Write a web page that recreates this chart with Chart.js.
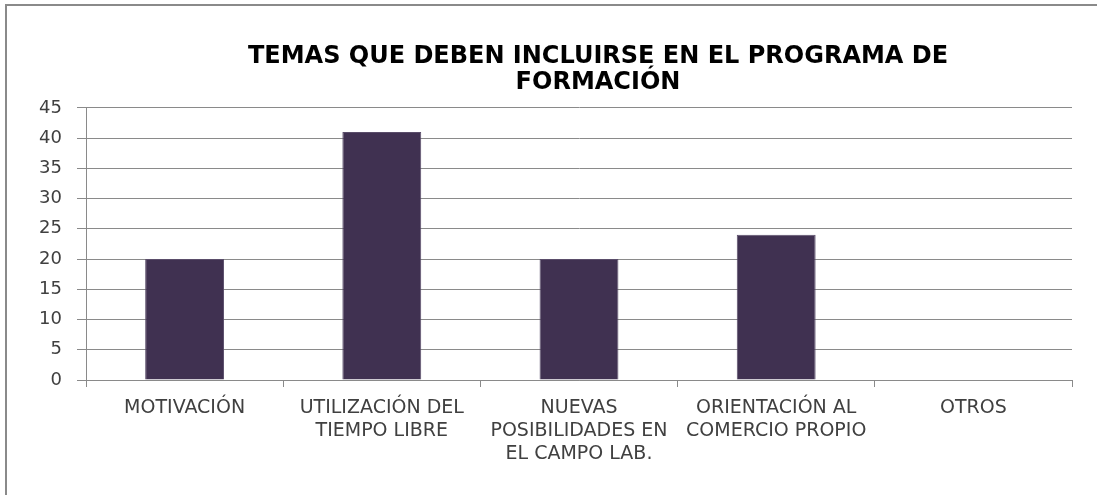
<!DOCTYPE html>
<html lang="es">
<head>
<meta charset="utf-8">
<title>Temas que deben incluirse en el programa de formación</title>
<script src="https://cdn.jsdelivr.net/npm/chart.js@4"></script>
<style>
  html, body { margin: 0; padding: 0; background: #fff; overflow: hidden; }
  /* marco gris del gráfico (solo se ve arriba y a la izquierda) */
  .marco {
    position: absolute; left: 5px; top: 4px; width: 1200px; height: 600px;
    border-left: 2px solid #8a8a8a; border-top: 2px solid #8a8a8a;
  }
  #grafico { position: absolute; left: 0; top: 0; }
</style>
</head>
<body>
<div class="marco"></div>
<canvas id="grafico" width="1097" height="495"></canvas>
<script>
"use strict";

// Datos
const categorias = [
  ["MOTIVACIÓN"],
  ["UTILIZACIÓN DEL", "TIEMPO LIBRE"],
  ["NUEVAS", "POSIBILIDADES EN", "EL CAMPO LAB."],
  ["ORIENTACIÓN AL", "COMERCIO PROPIO"],
  ["OTROS"]
];
const valores = [20, 41, 20, 24, 0];
const titulo = ["TEMAS QUE DEBEN INCLUIRSE EN EL PROGRAMA DE", "FORMACIÓN"];
const ejeY = { min: 0, max: 45, paso: 5 };

const gris = "#8a8a8a";

// Mueve el título un poco a la derecha, como en el original
const moverTitulo = {
  id: "moverTitulo",
  afterLayout(chart) {
    const t = chart.titleBlock;
    if (!t) return;
    t.left += 62;
    t.right += 62;
  }
};

const ctx = document.getElementById("grafico");

new Chart(ctx, {
  type: "bar",
  data: {
    labels: categorias,
    datasets: [{
      data: valores,
      backgroundColor: "#403151",
      borderColor: "#5a4d6a",
      borderWidth: 1,
      barPercentage: 0.4,
      categoryPercentage: 1
    }]
  },
  options: {
    responsive: false,
    animation: false,
    layout: { padding: { left: 0, right: 25, top: 0, bottom: 0 } },
    plugins: {
      legend: { display: false },
      tooltip: { enabled: false },
      title: {
        display: true,
        text: titulo,
        color: "#000",
        font: { family: "DejaVu Sans", size: 24, weight: "bold", lineHeight: 1.08 },
        padding: { top: 44, bottom: 12 }
      }
    },
    scales: {
      x: {
        afterFit: (scale) => { scale.height = 115; },
        grid: {
          drawOnChartArea: false,
          drawTicks: true,
          tickLength: 7,
          color: gris,
          offset: true
        },
        border: { color: gris, width: 1 },
        ticks: {
          color: "#404040",
          font: { family: "DejaVu Sans", size: 19, lineHeight: 1.22 },
          padding: 9,
          autoSkip: false,
          maxRotation: 0
        }
      },
      y: {
        min: ejeY.min,
        max: ejeY.max,
        afterFit: (scale) => { scale.width = 86; },
        grid: { color: gris, tickLength: 9 },
        border: { color: gris, width: 1 },
        ticks: {
          stepSize: ejeY.paso,
          color: "#404040",
          font: { family: "DejaVu Sans", size: 18 },
          padding: 15
        }
      }
    }
  },
  plugins: [moverTitulo]
});
</script>
</body>
</html>
